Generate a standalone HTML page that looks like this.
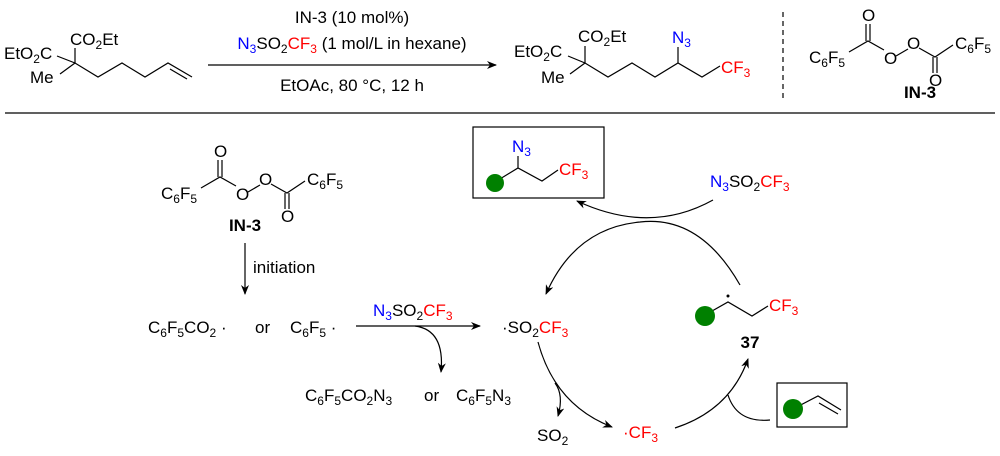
<!DOCTYPE html>
<html><head><meta charset="utf-8"><style>
html,body{margin:0;padding:0;background:#fff}
svg{display:block}
text{font-family:"Liberation Sans",Arial,sans-serif;font-size:17px;fill:#000}
.r{fill:#ff0000}.b{fill:#0000ff}
.s{font-size:12px}
</style></head><body>
<svg width="1000" height="456" viewBox="0 0 1000 456" xmlns="http://www.w3.org/2000/svg">
<defs>
<marker id="ah" markerWidth="10" markerHeight="8" refX="9" refY="4" orient="auto" markerUnits="userSpaceOnUse">
<path d="M0,0 L10,4 L0,8 L3,4 Z" fill="#000"/></marker>
</defs>
<g stroke="#000" stroke-width="1.2" fill="none">
<path d="M57,56 L75,63 L98,77 L122,63 L145,77 L168,63 L192,77"/>
<path d="M75,63 L75,48"/>
<path d="M75,63 L60,74"/>
<path d="M170,69 L187,79"/>
<path d="M208,65 L496,65" marker-end="url(#ah)"/>
<path d="M568,56 L585,63 L608,77 L632,63 L655,77 L678,63 L702,77 L720,66"/>
<path d="M585,63 L585,46"/>
<path d="M585,63 L570,74"/>
<path d="M678,63 L678,47"/>
<path d="M783,12 L783,100" stroke-dasharray="5,4"/>
<path d="M849,52 L868,41 L884,50 M896,56 L908,49 M919,48 L935,57 L953,45 M866,41 L866,24 M870,41 L870,24 M933,57 L933,73 M937,57 L937,73"/>
<path d="M5,113 L995,113" stroke-width="1.3"/>
<path d="M201,188 L220,177 L236,186 M248,192 L260,185 M271,184 L287,193 L305,181 M218,177 L218,160 M222,177 L222,160 M285,193 L285,209 M289,193 L289,209"/>
<path d="M245,243 L245,294" marker-end="url(#ah)"/>
<path d="M356,326 L480,326" marker-end="url(#ah)"/>
<path d="M415,326 Q445,330 441,372" marker-end="url(#ah)"/>
<rect x="473" y="127" width="131" height="71"/>
<path d="M495,182 L518,168 L542,181 L558,170 M518,168 L518,156"/>
<path d="M713,200 Q650,235 577,201" marker-end="url(#ah)"/>
<path d="M740,285 Q700,215 640,222 Q575,228 546,294" marker-end="url(#ah)"/>
<path d="M538,342 Q555,405 612,427" marker-end="url(#ah)"/>
<path d="M555,383 Q564,395 558,416" marker-end="url(#ah)"/>
<path d="M675,428 Q730,410 748,359" marker-end="url(#ah)"/>
<path d="M770,420 Q737,423 728,395"/>
<rect x="777" y="383" width="70" height="44"/>
<path d="M793,409 L818,396 L841,410 M819,403 L838,414"/>
<path d="M705,315 L728,302 L752,316 L768,306"/>
</g>
<g fill="#008000">
<circle cx="495" cy="183" r="9"/>
<circle cx="793" cy="409" r="10"/>
<circle cx="705" cy="316" r="10"/>
</g>
<circle cx="728" cy="296" r="1.5" fill="#000"/>

<text x="70" y="45">CO<tspan class="s" dy="4">2</tspan><tspan dy="-4">Et</tspan></text>
<text x="4" y="59">EtO<tspan class="s" dy="4">2</tspan><tspan dy="-4">C</tspan></text>
<text x="30" y="83">Me</text>
<text x="352" y="23" text-anchor="middle">IN-3 (10 mol%)</text>
<text x="352" y="49" text-anchor="middle"><tspan class="b">N</tspan><tspan class="b s" dy="4">3</tspan><tspan dy="-4">SO</tspan><tspan class="s" dy="4">2</tspan><tspan class="r" dy="-4">CF</tspan><tspan class="r s" dy="4">3</tspan><tspan dy="-4"> (1 mol/L in hexane)</tspan></text>
<text x="352" y="91" text-anchor="middle">EtOAc, 80 °C, 12 h</text>

<text x="578" y="42">CO<tspan class="s" dy="4">2</tspan><tspan dy="-4">Et</tspan></text>
<text x="514" y="57">EtO<tspan class="s" dy="4">2</tspan><tspan dy="-4">C</tspan></text>
<text x="541" y="83">Me</text>
<text x="672" y="43" class="b">N<tspan class="s" dy="4">3</tspan></text>
<text x="721" y="73" class="r">CF<tspan class="s" dy="4">3</tspan></text>

<text x="809" y="63">C<tspan class="s" dy="4">6</tspan><tspan dy="-4">F</tspan><tspan class="s" dy="4">5</tspan></text>
<text x="862" y="21">O</text>
<text x="884" y="64">O</text>
<text x="907" y="49">O</text>
<text x="929" y="86">O</text>
<text x="955" y="49">C<tspan class="s" dy="4">6</tspan><tspan dy="-4">F</tspan><tspan class="s" dy="4">5</tspan></text>
<text x="920" y="98" text-anchor="middle" font-weight="bold">IN-3</text>

<text x="161" y="199">C<tspan class="s" dy="4">6</tspan><tspan dy="-4">F</tspan><tspan class="s" dy="4">5</tspan></text>
<text x="214" y="157">O</text>
<text x="236" y="200">O</text>
<text x="259" y="185">O</text>
<text x="281" y="222">O</text>
<text x="307" y="185">C<tspan class="s" dy="4">6</tspan><tspan dy="-4">F</tspan><tspan class="s" dy="4">5</tspan></text>
<text x="245" y="231" text-anchor="middle" font-weight="bold">IN-3</text>
<text x="253" y="273">initiation</text>

<text x="148" y="333">C<tspan class="s" dy="4">6</tspan><tspan dy="-4">F</tspan><tspan class="s" dy="4">5</tspan><tspan dy="-4">CO</tspan><tspan class="s" dy="4">2</tspan><tspan dy="-4"> ·</tspan></text>
<text x="255" y="333">or</text>
<text x="290" y="333">C<tspan class="s" dy="4">6</tspan><tspan dy="-4">F</tspan><tspan class="s" dy="4">5</tspan><tspan dy="-4"> ·</tspan></text>
<text x="373" y="316"><tspan class="b">N</tspan><tspan class="b s" dy="4">3</tspan><tspan dy="-4">SO</tspan><tspan class="s" dy="4">2</tspan><tspan class="r" dy="-4">CF</tspan><tspan class="r s" dy="4">3</tspan></text>
<text x="305" y="401">C<tspan class="s" dy="4">6</tspan><tspan dy="-4">F</tspan><tspan class="s" dy="4">5</tspan><tspan dy="-4">CO</tspan><tspan class="s" dy="4">2</tspan><tspan dy="-4">N</tspan><tspan class="s" dy="4">3</tspan></text>
<text x="424" y="401">or</text>
<text x="456" y="401">C<tspan class="s" dy="4">6</tspan><tspan dy="-4">F</tspan><tspan class="s" dy="4">5</tspan><tspan dy="-4">N</tspan><tspan class="s" dy="4">3</tspan></text>

<text x="502" y="333">·SO<tspan class="s" dy="4">2</tspan><tspan class="r" dy="-4">CF</tspan><tspan class="r s" dy="4">3</tspan></text>
<text x="512" y="152" class="b">N<tspan class="s" dy="4">3</tspan></text>
<text x="559" y="175" class="r">CF<tspan class="s" dy="4">3</tspan></text>
<text x="710" y="187"><tspan class="b">N</tspan><tspan class="b s" dy="4">3</tspan><tspan dy="-4">SO</tspan><tspan class="s" dy="4">2</tspan><tspan class="r" dy="-4">CF</tspan><tspan class="r s" dy="4">3</tspan></text>
<text x="769" y="311" class="r">CF<tspan class="s" dy="4">3</tspan></text>
<text x="750" y="348" text-anchor="middle" font-weight="bold">37</text>
<text x="537" y="441">SO<tspan class="s" dy="4">2</tspan></text>
<text x="623" y="438" class="r">·CF<tspan class="s" dy="4">3</tspan></text>
</svg>
</body></html>
